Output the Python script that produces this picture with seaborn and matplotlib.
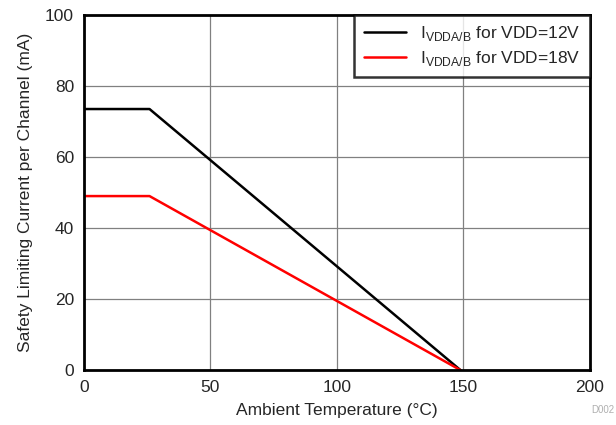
import matplotlib
matplotlib.use("Agg")
import matplotlib.pyplot as plt
import seaborn as sns
import pandas as pd

# data
temp = [0, 26, 149]
i_12v = [73.5, 73.5, 0]
i_18v = [49, 49, 0]
labels = [r'I$_{\mathregular{VDDA/B}}$ for VDD=12V', r'I$_{\mathregular{VDDA/B}}$ for VDD=18V']
colors = ['black', 'red']

df = pd.DataFrame({'temp': temp * 2,
                   'current': i_12v + i_18v,
                   'series': [labels[0]] * 3 + [labels[1]] * 3})

sns.set_style("white")
plt.rcParams['font.family'] = ['Liberation Sans', 'DejaVu Sans']
plt.rcParams['mathtext.fontset'] = 'custom'
plt.rcParams['mathtext.rm'] = 'Liberation Sans'

fig = plt.figure(figsize=(6.16, 4.25), dpi=100)
ax = fig.add_axes([0.136, 0.129, 0.821, 0.836])

sns.lineplot(data=df, x='temp', y='current', hue='series', palette=colors, linewidth=1.8, ax=ax)

ax.set_xlim(0, 200)
ax.set_ylim(0, 100)
ax.set_xticks([0, 50, 100, 150, 200])
ax.set_yticks([0, 20, 40, 60, 80, 100])
ax.grid(True, color='#808080', linewidth=0.9)
ax.tick_params(length=0, labelsize=12.5, pad=7)
for s in ax.spines.values():
    s.set_linewidth(2)
    s.set_color('black')

ax.set_xlabel('Ambient Temperature (°C)', fontsize=12.5, labelpad=6)
ax.set_ylabel('Safety Limiting Current per Channel (mA)', fontsize=12.5, labelpad=9)

leg = ax.legend(loc='upper right', fontsize=12.5, frameon=True, fancybox=False,
                borderaxespad=0, handlelength=2.4, labelspacing=0.3, borderpad=0.55)
leg.get_frame().set_edgecolor('black')
leg.get_frame().set_linewidth(1.8)
leg.set_title(None)

fig.text(0.998, 0.035, 'D002', fontsize=7, color='#b0b0b0', ha='right', va='center')

fig.savefig('out.png', dpi=100)
